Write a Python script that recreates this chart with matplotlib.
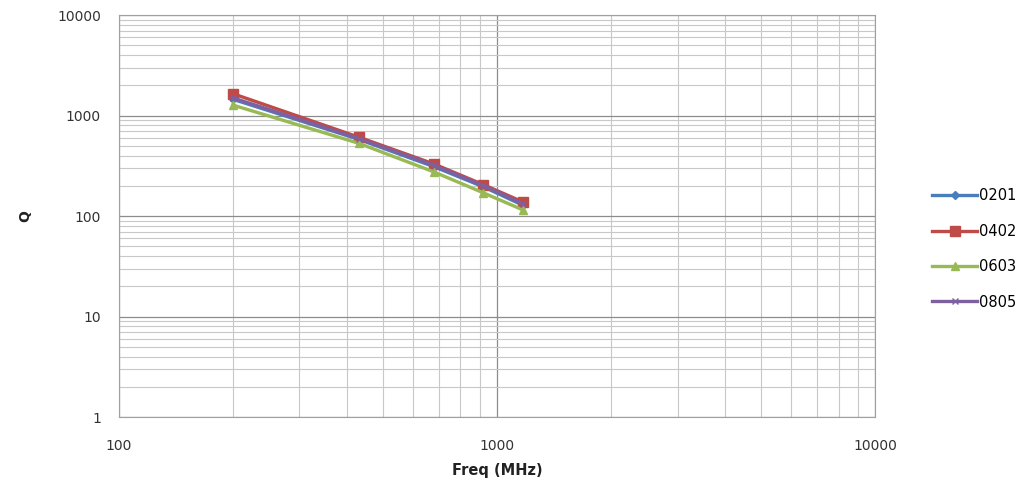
import matplotlib.pyplot as plt
from matplotlib.ticker import LogLocator, FixedLocator, FixedFormatter

# Data
freq = [200, 430, 680, 920, 1170]
q_0201 = [1450, 580, 310, 195, 128]
q_0402 = [1650, 610, 330, 205, 138]
q_0603 = [1270, 530, 275, 170, 115]
q_0805 = [1500, 590, 320, 200, 132]

series = [
    ('0201', q_0201, '#4A7EBB', 'D', 4),
    ('0402', q_0402, '#BE4B48', 's', 7),
    ('0603', q_0603, '#98B954', '^', 6),
    ('0805', q_0805, '#7D60A0', 'x', 5),
]

fig = plt.figure(figsize=(10.27, 4.92), dpi=100)
ax = fig.add_axes([0.1159, 0.1524, 0.7363, 0.8171])

for name, vals, col, mk, ms in series:
    ax.plot(freq, vals, color=col, marker=mk, markersize=ms, linewidth=2.4,
            label=name, markeredgecolor=col)

ax.set_xscale('log')
ax.set_yscale('log')
ax.set_xlim(100, 10000)
ax.set_ylim(1, 10000)

ax.xaxis.set_major_locator(FixedLocator([100, 1000, 10000]))
ax.xaxis.set_major_formatter(FixedFormatter(['100', '1000', '10000']))
ax.yaxis.set_major_locator(FixedLocator([1, 10, 100, 1000, 10000]))
ax.yaxis.set_major_formatter(FixedFormatter(['1', '10', '100', '1000', '10000']))
ax.xaxis.set_minor_locator(LogLocator(base=10, subs=range(2, 10)))
ax.yaxis.set_minor_locator(LogLocator(base=10, subs=range(2, 10)))
ax.xaxis.set_minor_formatter(FixedFormatter([]))
ax.yaxis.set_minor_formatter(FixedFormatter([]))

ax.grid(which='major', color='#8c8c8c', linewidth=0.9)
ax.grid(which='minor', color='#c8c8c8', linewidth=0.8)
ax.set_axisbelow(True)
ax.tick_params(which='both', length=0, labelsize=10, colors='#333333')
ax.tick_params(axis='x', pad=16)
ax.tick_params(axis='y', pad=13)

for s in ax.spines.values():
    s.set_color('#a0a0a0')

ax.set_xlabel('Freq (MHz)', fontsize=10.5, fontweight='bold', labelpad=7,
              color='#222222')
ax.set_ylabel('Q', fontsize=10, fontweight='bold', labelpad=18,
              color='#222222')

ax.legend(loc='center left', bbox_to_anchor=(1.075, 0.418), frameon=False,
          fontsize=10.5, handlelength=3.1, handletextpad=0.15,
          labelspacing=1.4, borderpad=0, borderaxespad=0)

fig.savefig('out.png', dpi=100)
